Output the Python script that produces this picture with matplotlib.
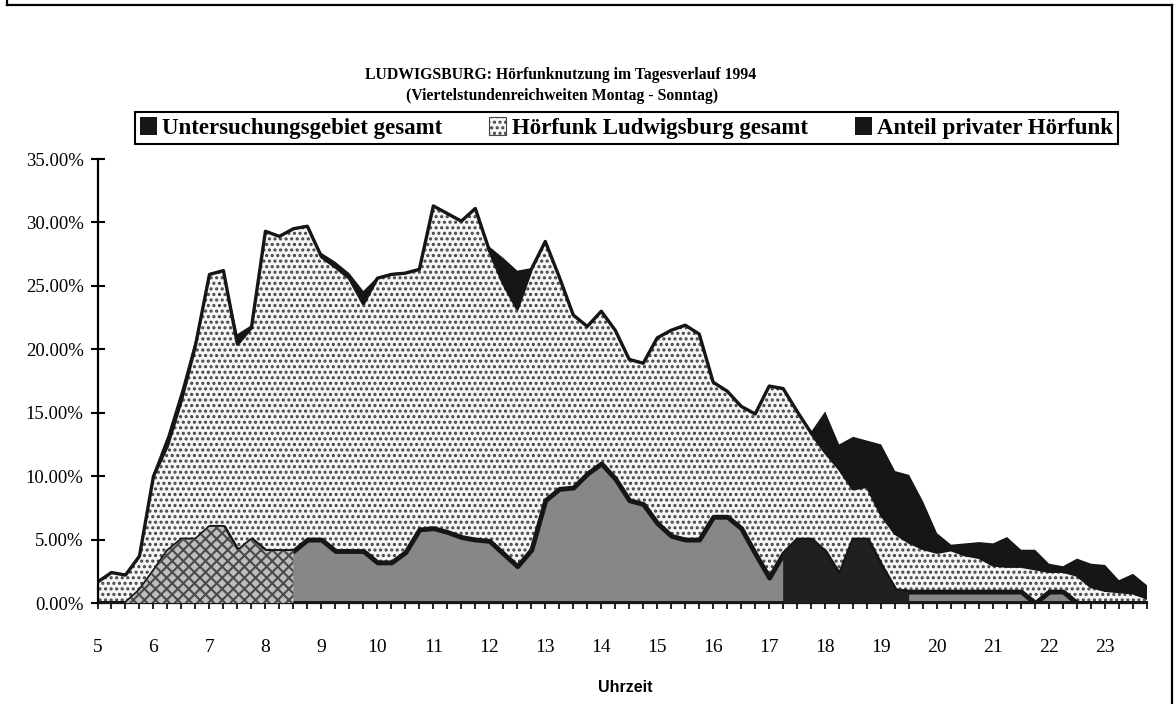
import matplotlib.pyplot as plt
from matplotlib.patches import Patch
from matplotlib.lines import Line2D
from matplotlib.ticker import FuncFormatter, MultipleLocator
import numpy as np

# --- data: Viertelstundenreichweiten in %, 5:00 bis 23:45 ---
uhrzeit = np.arange(5, 24, 0.25)
stunden = list(range(5, 24))

untersuchungsgebiet = [
    1.7, 2.5, 2.3, 3.8, 10.3, 13.2, 16.8, 20.8,      # 5:00 - 6:45
    26.0, 26.3, 21.2, 21.9, 29.4, 29.0, 29.6, 29.8,  # 7:00 - 8:45
    27.6, 26.9, 26.0, 24.6, 25.7, 26.0, 26.1, 26.4,  # 9:00 - 10:45
    31.4, 30.8, 30.2, 31.2, 28.1, 27.2, 26.2, 26.4,  # 11:00 - 12:45
    28.6, 25.8, 22.8, 21.9, 23.1, 21.6, 19.3, 19.0,  # 13:00 - 14:45
    21.0, 21.6, 22.0, 21.3, 17.5, 16.8, 15.6, 15.0,  # 15:00 - 16:45
    17.2, 17.0, 15.2, 13.5, 15.1, 12.5, 13.1, 12.8,  # 17:00 - 18:45
    12.5, 10.4, 10.1, 8.0, 5.5, 4.6, 4.7, 4.8,       # 19:00 - 20:45
    4.7, 5.2, 4.2, 4.2, 3.1, 2.9, 3.5, 3.1,          # 21:00 - 22:45
    3.0, 1.8, 2.3, 1.4,                              # 23:00 - 23:45
]
ludwigsburg = [
    1.65, 2.4, 2.2, 3.7, 10.0, 12.4, 16.0, 20.3,
    25.9, 26.2, 20.4, 21.7, 29.3, 28.9, 29.5, 29.7,
    27.3, 26.5, 25.6, 23.6, 25.6, 25.9, 26.0, 26.3,
    31.3, 30.7, 30.1, 31.1, 27.8, 25.2, 23.2, 26.3,
    28.5, 25.7, 22.7, 21.8, 23.0, 21.5, 19.2, 18.9,
    20.9, 21.5, 21.9, 21.2, 17.4, 16.7, 15.5, 14.9,
    17.1, 16.9, 15.1, 13.4, 11.9, 10.6, 9.0, 9.2,
    7.0, 5.5, 4.8, 4.3, 4.0, 4.2, 3.8, 3.6,
    3.0, 2.9, 2.9, 2.7, 2.5, 2.5, 2.2, 1.3,
    1.0, 0.9, 0.8, 0.4,
]
privat = [
    0.0, 0.0, 0.0, 1.0, 2.5, 4.1, 5.0, 5.0,
    6.0, 6.0, 4.1, 5.0, 4.1, 4.1, 4.1, 5.0,
    5.0, 4.1, 4.1, 4.1, 3.2, 3.2, 4.0, 5.8,
    5.9, 5.6, 5.2, 5.0, 4.9, 3.9, 2.9, 4.2,
    8.1, 9.0, 9.1, 10.2, 11.0, 9.8, 8.1, 7.8,
    6.3, 5.3, 5.0, 5.0, 6.8, 6.8, 5.9, 3.9,
    2.0, 3.9, 5.0, 5.0, 4.0, 2.2, 5.0, 5.0,
    2.9, 1.0, 0.9, 0.9, 0.9, 0.9, 0.9, 0.9,
    0.9, 0.9, 0.9, 0.0, 0.9, 0.9, 0.0, 0.0,
    0.0, 0.0, 0.0, 0.0,
]
namen = ["Untersuchungsgebiet gesamt", "Hörfunk Ludwigsburg gesamt",
         "Anteil privater Hörfunk"]

plt.rcParams['font.family'] = ['Liberation Serif', 'DejaVu Serif']
plt.rcParams['hatch.linewidth'] = 1.5

W, H = 1174, 704
fig = plt.figure(figsize=(W / 100, H / 100), dpi=100)
ax = fig.add_axes([97.5 / W, 1 - 603 / H, (1147 - 97.5) / W, (603 - 159) / H])

dunkel = '#161616'
punkt_bg = '#f6f6f6'
punkt = '#444444'

ax.fill_between(uhrzeit, 0, untersuchungsgebiet, facecolor=dunkel, linewidth=0, zorder=1)
ax.fill_between(uhrzeit, 0, ludwigsburg, facecolor=punkt_bg, edgecolor=punkt,
                hatch='...', linewidth=0, zorder=2)
ax.plot(uhrzeit, ludwigsburg, color=dunkel, lw=2.4, zorder=2.5)
ax.fill_between(uhrzeit, 0, privat, facecolor='#878787', edgecolor=dunkel,
                linewidth=3.5, zorder=3)

# the scan shows the private share as cross-hatched in the morning and
# nearly black in the early evening
t = np.asarray(uhrzeit)
ax.fill_between(uhrzeit, 0, privat, where=t <= 8.5, facecolor='#bdbdbd',
                edgecolor='#4a4a4a', hatch='xxx', linewidth=0, zorder=3.2)
ax.fill_between(uhrzeit, 0, privat, where=(t >= 17.25) & (t <= 19.5),
                facecolor='#202020', linewidth=0, zorder=3.2)

ax.set_xlim(5, 23.75)
ax.set_ylim(0, 35)
ax.yaxis.set_major_locator(MultipleLocator(5))
ax.yaxis.set_major_formatter(FuncFormatter(lambda v, p: f"{v:.2f}%"))
ax.set_xticks(stunden)
ax.set_xticklabels([str(s) for s in stunden])
ax.xaxis.set_minor_locator(MultipleLocator(0.25))

ax.tick_params(axis='y', direction='inout', length=10, width=1.5, labelsize=13.5, pad=5)
ax.tick_params(axis='x', which='both', direction='out', length=4, width=1.2,
               labelsize=14, pad=22)
for s in ['top', 'right']:
    ax.spines[s].set_visible(False)
for s in ['left', 'bottom']:
    ax.spines[s].set_linewidth(1.6)
ax.set_facecolor('none')

# Titel
fig.text(561 / W, 1 - 75 / H, "LUDWIGSBURG: Hörfunknutzung im Tagesverlauf 1994",
         ha='center', va='center', fontsize=11.3, fontweight='bold')
fig.text(562 / W, 1 - 96 / H, "(Viertelstundenreichweiten Montag - Sonntag)",
         ha='center', va='center', fontsize=11.3, fontweight='bold')
fig.text(625 / W, 1 - 688 / H, "Uhrzeit", ha='center', va='center', fontsize=11.5,
         family=['Liberation Sans', 'DejaVu Sans'], fontweight='bold')

# Legende
handles = [Patch(facecolor=dunkel),
           Patch(facecolor=punkt_bg, edgecolor=punkt, hatch='...', linewidth=0.8),
           Patch(facecolor=dunkel)]
leg = fig.legend(handles, namen, loc='center', ncol=3, mode='expand',
                 bbox_to_anchor=(135 / W, 1 - 143 / H, (1118 - 135) / W, 30 / H),
                 fancybox=False, framealpha=1, edgecolor='black',
                 prop={'size': 16.5, 'weight': 'bold'}, handlelength=0.75,
                 handleheight=0.85, handletextpad=0.25, borderpad=0.2,
                 columnspacing=0.6, borderaxespad=0)
leg.get_frame().set_linewidth(1.5)

# Rahmen um die Grafik
for xs, ys in [([7, 7], [0, 5]), ([7, 1172], [5, 5]), ([1172, 1172], [5, 704])]:
    fig.add_artist(Line2D([x / W for x in xs], [1 - y / H for y in ys],
                          transform=fig.transFigure, color='black', lw=1.6))

fig.savefig("out.png", dpi=100)
